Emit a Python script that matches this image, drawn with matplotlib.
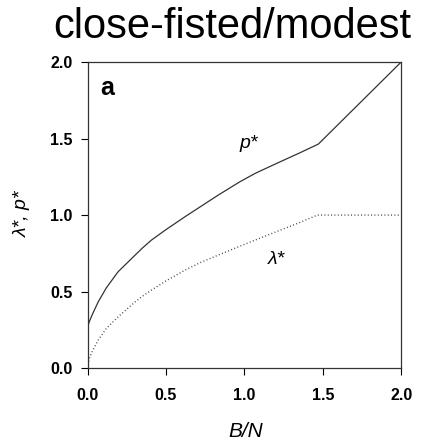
import matplotlib
matplotlib.use("Agg")
import matplotlib.pyplot as plt

plt.rcParams['font.family'] = ['Liberation Sans', 'DejaVu Sans']

# p* curve
b_p = [0.0, 0.01, 0.03, 0.068, 0.12, 0.195, 0.25, 0.3, 0.35, 0.408, 0.5, 0.621, 0.72,
       0.834, 0.972, 1.068, 1.2, 1.35, 1.472, 2.0]
p_star = [0.266, 0.30, 0.35, 0.433, 0.525, 0.63, 0.685, 0.735, 0.785, 0.837, 0.905, 0.989, 1.055,
          1.131, 1.218, 1.272, 1.335, 1.405, 1.464, 2.0]

# lambda* curve
b_l = [0.0, 0.01, 0.03, 0.068, 0.12, 0.195, 0.25, 0.3, 0.35, 0.408, 0.5, 0.621, 0.72,
       0.834, 0.972, 1.057, 1.2, 1.35, 1.465, 2.0]
lam_star = [0.0, 0.06, 0.11, 0.183, 0.26, 0.335, 0.385, 0.43, 0.47, 0.51, 0.57, 0.64, 0.69,
            0.739, 0.797, 0.832, 0.89, 0.95, 1.0, 1.0]

xticks = [0.0, 0.5, 1.0, 1.5, 2.0]
yticks = [0.0, 0.5, 1.0, 1.5, 2.0]

fig = plt.figure(figsize=(4.25, 4.43), dpi=100)
ax = fig.add_axes([0.206, 0.169, 0.738, 0.691])

ax.plot(b_p, p_star, color='#333333', lw=0.9)
ax.plot(b_l, lam_star, color='#444444', lw=1.0, linestyle=(0, (0.7, 1.7)))

ax.set_xlim(0, 2.0)
ax.set_ylim(0, 2.0)
ax.set_xticks(xticks)
ax.set_yticks(yticks)
ax.set_xticklabels(['%.1f' % v for v in xticks], fontsize=11.5, fontweight='bold')
ax.set_yticklabels(['%.1f' % v for v in yticks], fontsize=11.5, fontweight='bold')
ax.tick_params(direction='out', length=5, width=0.8)
ax.tick_params(axis='x', pad=9)
ax.tick_params(axis='y', pad=6)

for s in ax.spines.values():
    s.set_linewidth(0.9)
    s.set_color('#333333')

ax.text(0.041, 0.892, 'a', transform=ax.transAxes, fontsize=18, fontweight='bold',
        va='baseline')
ax.text(0.97, 1.44, 'p*', fontsize=14, fontstyle='italic', ha='left', va='baseline')
ax.text(1.15, 0.68, 'λ*', fontsize=14, fontstyle='italic', ha='left', va='baseline')

fig.text(0.546, 0.914, 'close-fisted/modest', fontsize=30, ha='center', va='baseline')
fig.text(0.578, 0.014, 'B/N', fontsize=15, fontstyle='italic', ha='center', va='baseline')
fig.text(0.052, 0.517, 'λ*, p*', fontsize=14, fontstyle='italic', ha='center',
         va='center', rotation=90)

fig.savefig('out.png', dpi=100)
